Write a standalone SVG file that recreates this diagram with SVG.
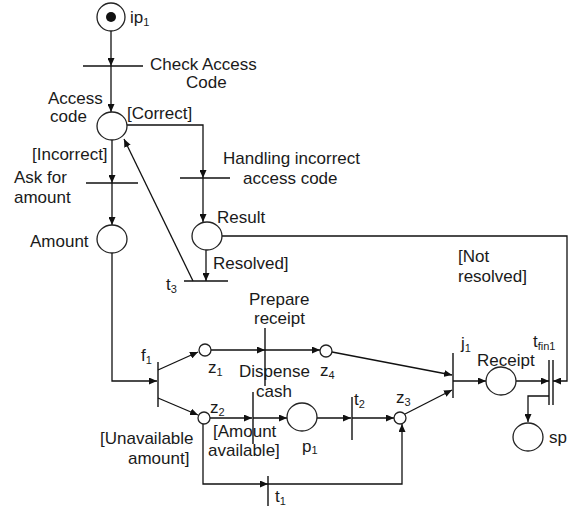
<svg xmlns="http://www.w3.org/2000/svg" width="569" height="508" viewBox="0 0 569 508">
<style>
text{font-family:"Liberation Sans",Arial,sans-serif;font-size:17px;fill:#1a1a1a}
.sub{font-size:11px}
.pl{fill:#fff;stroke:#222;stroke-width:1.3}
.tr{stroke:#111;stroke-width:1.4;fill:none}
.c{stroke:#111;stroke-width:1.3;fill:none}
.ca{stroke:#111;stroke-width:1.3;fill:none;marker-end:url(#a)}
</style>
<defs>
<marker id="a" viewBox="0 0 8 7" refX="8" refY="3.5" markerWidth="8" markerHeight="7" markerUnits="userSpaceOnUse" orient="auto"><path d="M0,0 L8,3.5 L0,7 z" fill="#111"/></marker>
</defs>
<g id="connectors">
<path class="ca" d="M111,31 V66"/>
<path class="ca" d="M111,66 V112"/>
<path class="ca" d="M127,125 H203 V178"/>
<path class="ca" d="M203,178 V222"/>
<path class="ca" d="M221,236 H567 V381 H553"/>
<path class="ca" d="M206,250 V281"/>
<path class="ca" d="M193,281 L124,139"/>
<path class="ca" d="M112,140 V183"/>
<path class="ca" d="M112,183 V225"/>
<path class="ca" d="M112,253 V381 H157"/>
<path class="ca" d="M158,370 L198,352"/>
<path class="ca" d="M158,398 L198,415"/>
<path class="ca" d="M211,350 H265"/>
<path class="ca" d="M265,350 H320"/>
<path class="ca" d="M332,352 L452,375"/>
<path class="ca" d="M210,418 H252"/>
<path class="ca" d="M253,418 H287"/>
<path class="ca" d="M317,418 H351"/>
<path class="ca" d="M352,418 H394"/>
<path class="ca" d="M405,414 L452,390"/>
<path class="ca" d="M203,424 V484 H268"/>
<path class="ca" d="M268,484 H402 V424"/>
<path class="ca" d="M453,381 H486"/>
<path class="ca" d="M516,381 H549"/>
<path class="ca" d="M549,396 H528 V422"/>
</g>
<g id="ip1"><ellipse class="pl" cx="111" cy="17" rx="14" ry="14"/><circle cx="111" cy="17" r="5" fill="#111"/><text x="130" y="23">ip<tspan class="sub" dy="3">1</tspan></text></g>
<g id="check-access-code"><line class="tr" x1="83" y1="66" x2="143" y2="66"/><text x="150" y="70">Check Access</text><text x="186" y="88">Code</text></g>
<g id="access-code"><ellipse class="pl" cx="112" cy="126" rx="15" ry="14"/><text x="48" y="104">Access</text><text x="50" y="122">code</text><text x="127" y="119">[Correct]</text><text x="32" y="160">[Incorrect]</text></g>
<g id="handling-incorrect"><line class="tr" x1="180" y1="178" x2="230" y2="178"/><text x="223" y="164">Handling incorrect</text><text x="243" y="184">access code</text></g>
<g id="ask-for-amount"><line class="tr" x1="86" y1="183" x2="138" y2="183"/><text x="14" y="183">Ask for</text><text x="14" y="203">amount</text></g>
<g id="result"><ellipse class="pl" cx="207" cy="236" rx="15" ry="14"/><text x="217" y="223">Result</text><text x="458" y="262">[Not</text><text x="458" y="282">resolved]</text></g>
<g id="t3"><line class="tr" x1="184" y1="281" x2="228" y2="281"/><text x="213" y="269">Resolved]</text><text x="166" y="290">t<tspan class="sub" dy="3">3</tspan></text></g>
<g id="amount"><ellipse class="pl" cx="112" cy="239" rx="15" ry="14"/><text x="30" y="247">Amount</text></g>
<g id="f1"><line class="tr" x1="158" y1="362" x2="158" y2="407"/><text x="141" y="361">f<tspan class="sub" dy="3">1</tspan></text><text x="100" y="444">[Unavailable</text><text x="128" y="464">amount]</text></g>
<g id="z1"><circle class="pl" cx="205" cy="350" r="6"/><text x="208" y="373">z<tspan class="sub" dy="3">1</tspan></text></g>
<g id="z2"><circle class="pl" cx="204" cy="418" r="6"/><text x="210" y="413">z<tspan class="sub" dy="3">2</tspan></text></g>
<g id="prepare-receipt"><line class="tr" x1="265" y1="328" x2="265" y2="386"/><text x="249" y="305">Prepare</text><text x="254" y="324">receipt</text></g>
<g id="dispense-cash"><line class="tr" x1="253" y1="392" x2="253" y2="444"/><text x="239" y="377">Dispense</text><text x="256" y="397">cash</text><text x="213" y="437">[Amount</text><text x="208" y="456">available]</text></g>
<g id="z4"><circle class="pl" cx="326" cy="351" r="6"/><text x="320" y="376">z<tspan class="sub" dy="3">4</tspan></text></g>
<g id="p1"><ellipse class="pl" cx="302" cy="417" rx="15" ry="14"/><text x="302" y="452">p<tspan class="sub" dy="2">1</tspan></text></g>
<g id="t2"><line class="tr" x1="352" y1="397" x2="352" y2="440"/><text x="354" y="405">t<tspan class="sub" dy="3">2</tspan></text></g>
<g id="z3"><circle class="pl" cx="400" cy="418" r="6"/><text x="396" y="403">z<tspan class="sub" dy="3">3</tspan></text></g>
<g id="t1"><line class="tr" x1="268" y1="476" x2="268" y2="506"/><text x="275" y="502">t<tspan class="sub" dy="3">1</tspan></text></g>
<g id="j1"><line class="tr" x1="453" y1="353" x2="453" y2="398"/><text x="461" y="349">j<tspan class="sub" dy="3">1</tspan></text></g>
<g id="receipt"><ellipse class="pl" cx="501" cy="381" rx="15" ry="14"/><text x="477" y="366">Receipt</text></g>
<g id="tfin1"><line class="tr" x1="549" y1="360" x2="549" y2="405"/><line class="tr" x1="553" y1="360" x2="553" y2="405"/><text x="533" y="347">t<tspan class="sub" dy="3" font-size="9">fin1</tspan></text></g>
<g id="sp"><ellipse class="pl" cx="528" cy="437" rx="15" ry="14"/><text x="549" y="443">sp</text></g>
</svg>
